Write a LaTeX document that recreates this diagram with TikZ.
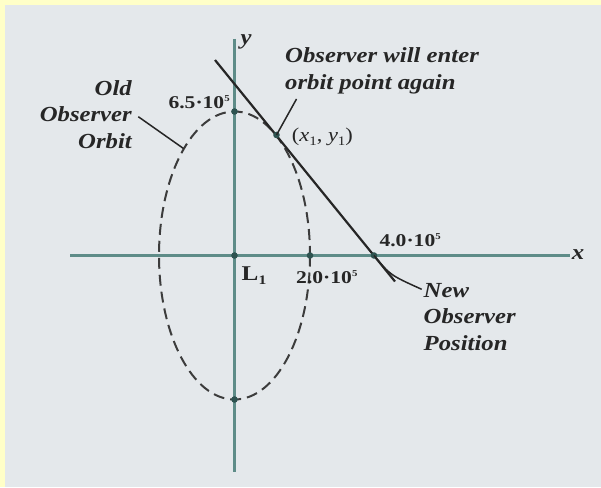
\documentclass[tikz,border=0pt]{standalone}
\usepackage{fontspec}
\setmainfont{Liberation Serif}
\newfontfamily\labfont[FakeStretch=1.15]{Liberation Serif}
\newfontfamily\numfont[FakeStretch=1.2]{Liberation Serif}
\usetikzlibrary{calc}
\definecolor{bgc}{HTML}{E4E8EB}
\definecolor{yelc}{HTML}{FFFFC8}
\definecolor{axisc}{HTML}{5E8C88}
\definecolor{dotc}{HTML}{2E5350}
\definecolor{inkc}{HTML}{262626}
\newcommand{\sups}[1]{\raisebox{7pt}{\fontsize{9}{9}\selectfont #1}}
\newcommand{\subs}[1]{\raisebox{-4pt}{\fontsize{13}{13}\selectfont\upshape #1}}
\begin{document}
\begin{tikzpicture}[x=1pt,y=-1pt,
  axisline/.style={draw=axisc,line width=2.3pt},
  orbit/.style={draw=inkc!90,line width=2pt,dash pattern=on 11pt off 6pt},
  mainline/.style={draw=inkc,line width=2.2pt},
  leader/.style={draw=inkc,line width=1.5pt},
  dotmark/.style={fill=dotc},
  biglab/.style={inner sep=0pt,text=inkc,font=\labfont\bfseries\itshape\fontsize{21.5}{26.7}\selectfont},
  numlab/.style={inner sep=0pt,text=inkc,font=\numfont\bfseries\fontsize{18}{18}\selectfont},
  ptlab/.style={inner sep=0pt,text=inkc,font=\labfont\fontsize{19.5}{20}\selectfont}]
\fill[yelc] (0,0) rectangle (601,487);
\fill[bgc] (5,5) rectangle (601,487);
\useasboundingbox (0,0) rectangle (601,487);
% key points
\coordinate (O) at (234.5,255.5);
\coordinate (T) at (234.5,111.5);
\coordinate (B) at (234.5,399.5);
\coordinate (R) at (310,255.5);
\coordinate (P4) at (374,255.5);
\coordinate (X1) at (276.5,135);
\coordinate (LA) at (215,60);
\coordinate (LB) at (395,281.5);
\coordinate (E1) at (183.5,148.5);
\coordinate (XL) at (70,255.5);
\coordinate (XR) at (570,255.5);
\coordinate (YT) at (234.5,39);
\coordinate (YB) at (234.5,472);
% axes
\draw[axisline] (XL) -- (XR);
\draw[axisline] (YT) -- (YB);
% orbit
\draw[orbit] (O) ellipse [x radius=75.5, y radius=144];
% tangent line
\draw[mainline] (LA) -- (LB);
% dots
\foreach \p in {O,T,R,P4,X1,B} \fill[dotmark] (\p) circle (3.3);
% labels
\node[biglab,anchor=base] (ylab) at (246,45) {y};
\node[biglab,anchor=center] (xlab) at (578,255) {x};
\node[numlab,anchor=base west] (n65) at (168.3,108.3) {6.5·10\sups{5}};
\node[numlab,anchor=base west] (n40) at (379.3,246.7) {4.0·10\sups{5}};
\node[numlab,anchor=base west] (n20) at (296,283.3) {2.0·10\sups{5}};
\node[inner sep=0pt,text=inkc,font=\numfont\bfseries\fontsize{21}{22}\selectfont,anchor=base west] (l1) at (241.5,280) {L\subs{1}};
\node[ptlab,anchor=base west] (pt) at (291.7,141) {(\textit{x}\subs{1}, \textit{y}\subs{1})};
\node[biglab,align=right,anchor=east] (old) at (132,114.5) {Old\\Observer\\Orbit};
\node[biglab,align=left,anchor=west] (enter) at (285,70.5) {Observer will enter\\orbit point again};
\node[biglab,align=left,anchor=west] (new) at (423.5,317) {New\\Observer\\Position};
% leaders
\coordinate (OL) at (138.3,116.7);
\coordinate (EL) at (296.5,99);
\coordinate (NL) at (421.7,289.3);
\draw[leader] (OL) -- (E1);
\draw[leader] (EL) -- (X1);
\draw[leader] (P4) .. controls (390,275) .. (NL);
\end{tikzpicture}
\end{document}
